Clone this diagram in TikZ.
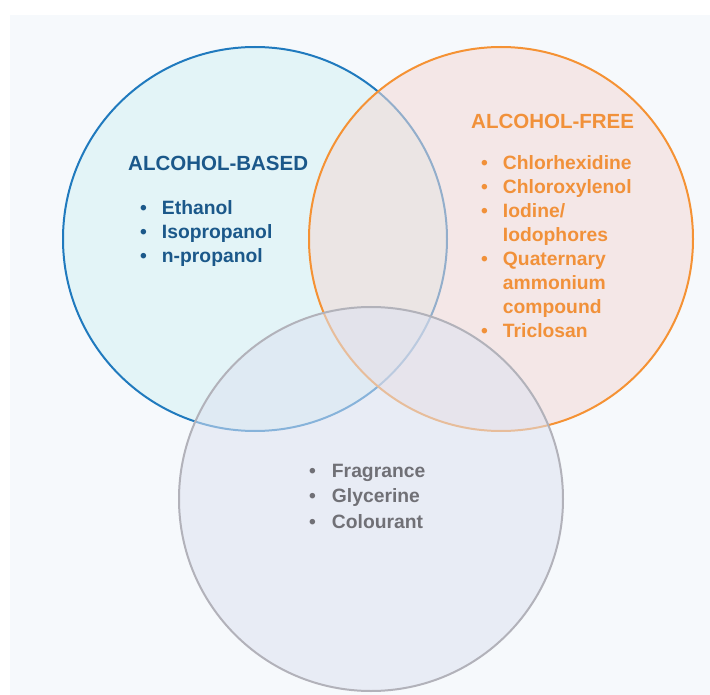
\documentclass[tikz,border=0pt]{standalone}
\usepackage{fontspec}
\setmainfont{Liberation Sans}
\usepackage{xcolor}
\usepackage{tikz}
\usetikzlibrary{positioning}
\definecolor{panelbg}{RGB}{246,249,252}
\definecolor{baseline}{RGB}{32,122,190}
\definecolor{basefill}{RGB}{212,240,243}
\definecolor{basetext}{RGB}{27,88,138}
\definecolor{freeline}{RGB}{245,146,52}
\definecolor{freefill}{RGB}{243,218,214}
\definecolor{freetext}{RGB}{241,145,58}
\definecolor{otherline}{RGB}{178,178,186}
\definecolor{otherfill}{RGB}{221,226,241}
\definecolor{othertext}{RGB}{112,112,118}
\newcommand{\bul}{\textbullet}

\begin{document}
\begin{tikzpicture}[
    x=1pt, y=-1pt,
    venn/.style={circle, draw, line width=2pt, minimum size=384pt,
                inner sep=0pt, fill opacity=0.55, draw opacity=1},
    title/.style={anchor=base west, inner sep=0pt, font=\bfseries\fontsize{20.5}{24}\selectfont},
    items/.style={anchor=base west, inner sep=0pt, font=\bfseries\fontsize{19.3}{24}\selectfont}
]
\useasboundingbox (0,0) rectangle (710,695);
\fill[panelbg] (10,15) rectangle (710,695);
% the three sets
\node[venn, draw=baseline, fill=basefill] (based) at (255,239) {};
\node[venn, draw=freeline, fill=freefill] (free) at (501,239) {};
\node[venn, draw=otherline, fill=otherfill] (other) at (371,499) {};
% alcohol-based
\node[title, text=basetext] (basedtitle) at (128,171) {ALCOHOL-BASED};
\node[items, text=basetext] (basedlist) at (140,215) {%
  \begin{tabular}[t]{@{}l@{\hspace{15pt}}l@{}}
  \bul & Ethanol\\
  \bul & Isopropanol\\
  \bul & n-propanol
  \end{tabular}};
% alcohol-free
\node[title, text=freetext] (freetitle) at (471,129) {ALCOHOL-FREE};
\node[items, text=freetext] (freelist) at (481,170) {%
  \begin{tabular}[t]{@{}l@{\hspace{15pt}}l@{}}
  \bul & Chlorhexidine\\
  \bul & Chloroxylenol\\
  \bul & Iodine/\\
       & Iodophores\\
  \bul & Quaternary\\
       & ammonium\\
       & compound\\
  \bul & Triclosan
  \end{tabular}};
% other ingredients
\node[items, text=othertext, font=\bfseries\fontsize{19.3}{25.5}\selectfont] (otherlist) at (309,477) {%
  \begin{tabular}[t]{@{}l@{\hspace{16pt}}l@{}}
  \bul & Fragrance\\
  \bul & Glycerine\\
  \bul & Colourant
  \end{tabular}};
\end{tikzpicture}
\end{document}
